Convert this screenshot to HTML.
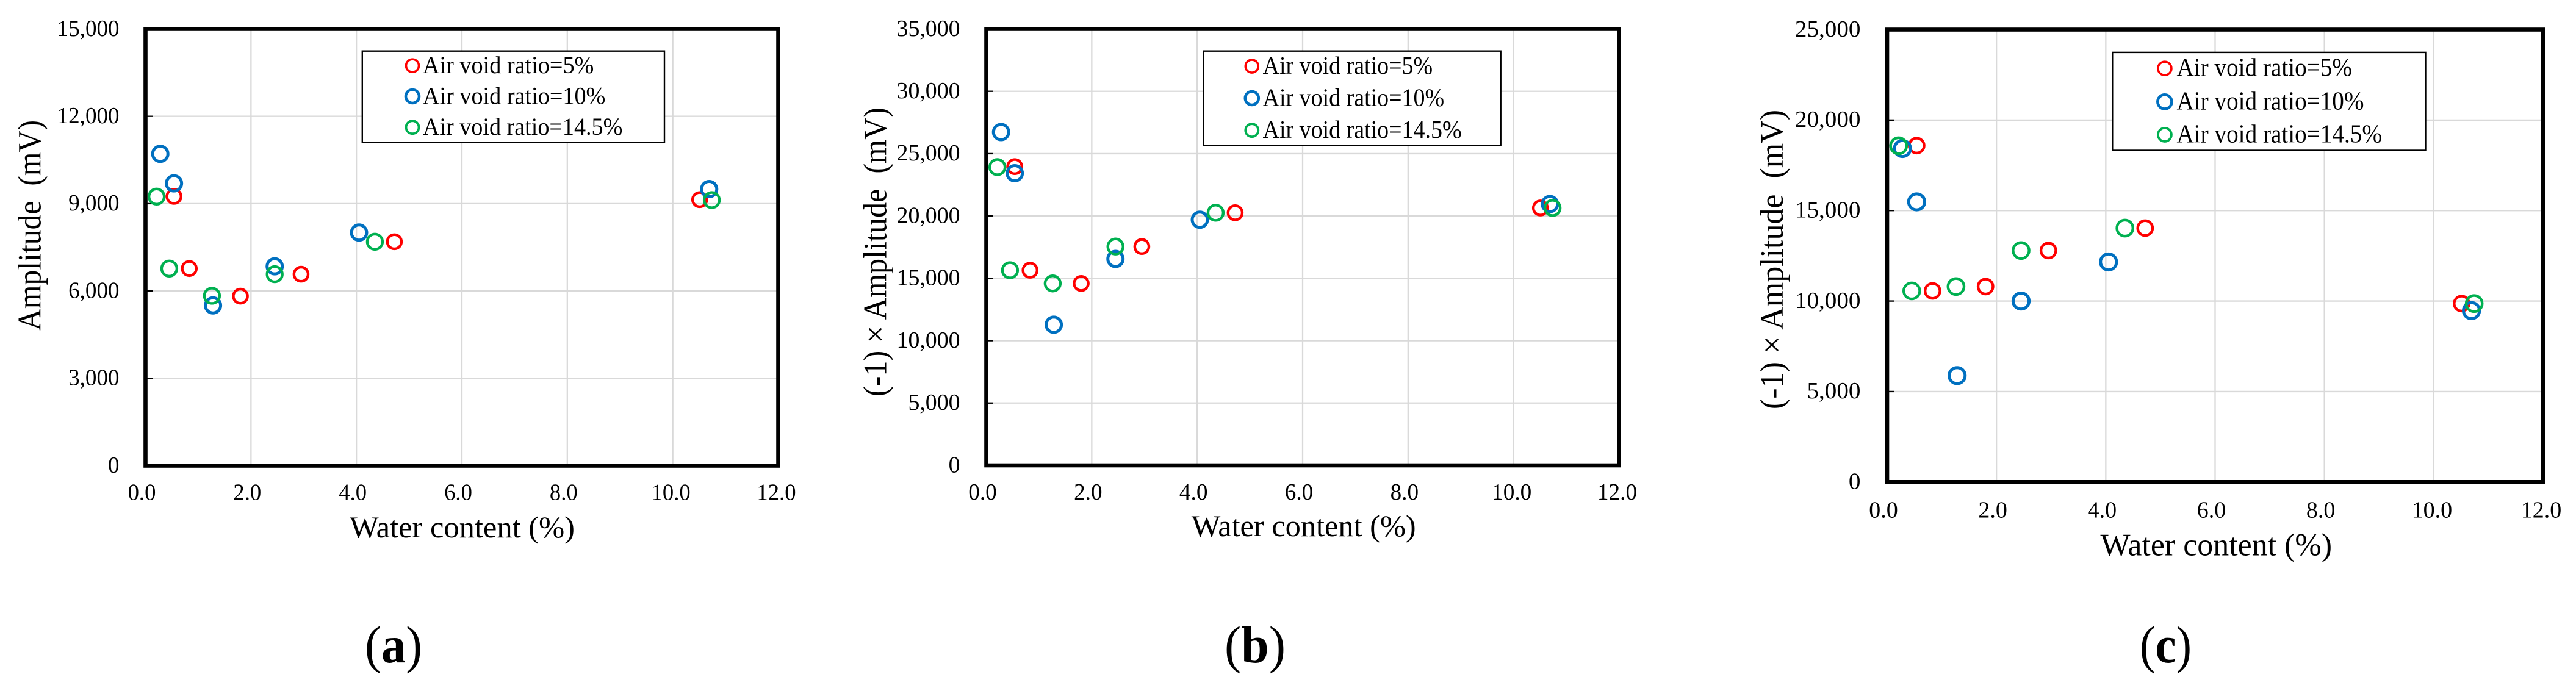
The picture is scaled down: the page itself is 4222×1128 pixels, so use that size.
<!DOCTYPE html>
<html lang="en">
<head>
<meta charset="utf-8">
<title>Amplitude versus water content</title>
<style>
html,body{margin:0;padding:0;background:#fff;width:4222px;height:1128px;overflow:hidden}
svg{display:block}
text{font-family:"Liberation Serif","Noto Serif CJK SC",serif;fill:#000;white-space:pre}
</style>
</head>
<body>
<svg id="figure" xmlns="http://www.w3.org/2000/svg" width="4222" height="1128" viewBox="0 0 4222 1128"></svg>
<script>
// Data
const xTickLabels = ['0.0', '2.0', '4.0', '6.0', '8.0', '10.0', '12.0'];
const yTickLabelsA = ['0', '3,000', '6,000', '9,000', '12,000', '15,000'];
const yTickLabelsB = ['0', '5,000', '10,000', '15,000', '20,000', '25,000', '30,000', '35,000'];
const yTickLabelsC = ['0', '5,000', '10,000', '15,000', '20,000', '25,000'];
const seriesNames = ['Air void ratio=5%', 'Air void ratio=10%', 'Air void ratio=14.5%'];
const seriesColors = ['#ff0000', '#0070c0', '#00b050'];

const waterContent5 = [0.54, 0.83, 1.80, 2.95, 4.72, 10.51];
const waterContent10 = [0.28, 0.54, 1.28, 2.45, 4.05, 10.69];
const waterContent145 = [0.21, 0.45, 1.26, 2.45, 4.35, 10.74];

const amplitudeA5 = [9250, 6771, 5822, 6576, 7691, 9138];
const amplitudeA10 = [10710, 9696, 5505, 6847, 8007, 9500];
const amplitudeA145 = [9243, 6771, 5836, 6576, 7691, 9123];

const amplitudeB5 = [23960, 15650, 14590, 17550, 20260, 20645];
const amplitudeB10 = [26730, 23430, 11280, 16560, 19700, 20960];
const amplitudeB145 = [23920, 15650, 14590, 17550, 20260, 20645];

const amplitudeC5 = [18590, 10560, 10800, 12790, 14030, 9860];
const amplitudeC10 = [18430, 15480, 5880, 10000, 12160, 9470];
const amplitudeC145 = [18580, 10560, 10800, 12790, 14030, 9860];

const svg = document.getElementById('figure');
const NS = 'http://www.w3.org/2000/svg';

function make(parent, tag, attrs, content) {
  const node = document.createElementNS(NS, tag);
  for (const key in attrs) node.setAttribute(key, attrs[key]);
  if (content !== undefined) node.textContent = content;
  parent.appendChild(node);
  return node;
}
function parseTick(label) {
  return parseFloat(label.replace(/,/g, ''));
}

function drawPanel(p) {
  const panel = make(svg, 'g', {});
  
  

  const xMax = parseTick(xTickLabels[xTickLabels.length - 1]);
  const yMax = parseTick(p.yLabels[p.yLabels.length - 1]);
  const xScale = function (v) { return p.left + v / xMax * (p.right - p.left); };
  const yScale = function (v) { return p.bottom - v / yMax * (p.bottom - p.top); };

  make(panel, 'rect', { x: p.left, y: p.top, width: p.right - p.left, height: p.bottom - p.top, fill: '#fff' });

  p.yLabels.forEach(function (label) {
    const v = parseTick(label);
    const y = yScale(v);
    if (v > 0 && v < yMax) {
      const grid = make(panel, 'line', { x1: p.left, x2: p.right, y1: y, y2: y, stroke: '#d9d9d9', 'stroke-width': 2.3 });
      
      
      const tick = make(panel, 'line', { x1: p.left, x2: p.left + 11.5, y1: y, y2: y, stroke: '#000', 'stroke-width': 2.3 });
      
      
    }
    const text = make(panel, 'text', {
      'text-anchor': 'end', 'font-size': 38,
      transform: 'translate(' + p.yLabelRight + ',' + (y + 11.3) + ') scale(' + p.yLabelScale + ',1)'
    }, label);
    
    
  });

  xTickLabels.forEach(function (label) {
    const v = parseTick(label);
    const x = xScale(v);
    if (v > 0 && v < xMax) {
      const grid = make(panel, 'line', { x1: x, x2: x, y1: p.top, y2: p.bottom, stroke: '#d9d9d9', 'stroke-width': 2.3 });
      
      
    }
    const offset = label.length > 3 ? -3 : -6;
    const text = make(panel, 'text', {
      'text-anchor': 'middle', 'font-size': 38,
      transform: 'translate(' + (x + offset) + ',' + p.xLabelBaseline + ') scale(' + p.xLabelScale + ',1)'
    }, label);
    
    
  });

  const frame = make(panel, 'rect', { x: p.left, y: p.top, width: p.right - p.left, height: p.bottom - p.top, fill: 'none', stroke: '#000', 'stroke-width': 6.6 });
  
  

  const radii = [11.6 * p.markerScale, 12.5 * p.markerScale, 12.5 * p.markerScale];
  const widths = [4.4, 5.0, 4.4];
  p.series.forEach(function (s, i) {
    const group = make(panel, 'g', {});
    
    
    s.x.forEach(function (xv, j) {
      const dot = make(group, 'circle', {
        cx: xScale(xv), cy: yScale(s.y[j]), r: radii[i],
        fill: 'none', stroke: seriesColors[i], 'stroke-width': widths[i]
      });
      
      
    });
  });

  const legend = make(panel, 'g', {});
  
  
  const box = make(legend, 'rect', {
    x: p.legend.x, y: p.legend.y, width: p.legend.w, height: p.legend.h,
    fill: '#fff', stroke: '#000', 'stroke-width': 2.4
  });
  
  
  const legendRadii = [10.5, 11.0, 10.5];
  const legendWidths = [3.6, 4.6, 3.8];
  seriesNames.forEach(function (name, i) {
    const entry = make(legend, 'g', {});
    
    
    const marker = make(entry, 'circle', {
      cx: p.legend.markerX, cy: p.legend.rowY[i], r: legendRadii[i] * p.markerScale,
      fill: 'none', stroke: seriesColors[i], 'stroke-width': legendWidths[i]
    });
    
    
    const label = make(entry, 'text', {
      x: p.legend.textX, y: p.legend.rowY[i] + 12.5, 'font-size': p.legend.font,
      textLength: p.legend.textW[i], lengthAdjust: 'spacingAndGlyphs'
    }, name);
    
    
  });

  const xTitle = make(panel, 'text', {
    x: p.xTitle.x, y: p.xTitle.y, 'font-size': p.xTitle.font,
    textLength: p.xTitle.w, lengthAdjust: 'spacingAndGlyphs'
  }, 'Water content (%)');
  
  

  const yTitle = make(panel, 'text', {
    x: 0, y: 0, 'font-size': p.yTitle.font,
    textLength: p.yTitle.w, lengthAdjust: 'spacingAndGlyphs',
    transform: 'translate(' + p.yTitle.x + ',' + p.yTitle.y + ') rotate(-90)'
  }, p.yTitle.text);
  
  

  const caption = make(panel, 'text', {
    x: p.caption.x, y: p.caption.y, 'font-size': p.caption.font,
    textLength: p.caption.w, lengthAdjust: 'spacingAndGlyphs'
  });
  
  
  make(caption, 'tspan', {}, '(');
  make(caption, 'tspan', { 'font-weight': 'bold' }, p.id);
  make(caption, 'tspan', {}, ')');
}

drawPanel({
  id: 'a', left: 238.5, right: 1275.5, top: 47.5, bottom: 763.5,
  yLabels: yTickLabelsA, yLabelRight: 195.5, yLabelScale: 0.975,
  xLabelBaseline: 819.5, xLabelScale: 0.965, markerScale: 1,
  series: [
    { x: waterContent5, y: amplitudeA5 },
    { x: waterContent10, y: amplitudeA10 },
    { x: waterContent145, y: amplitudeA145 }
  ],
  legend: { x: 593.8, y: 83.7, w: 495.2, h: 149.6, markerX: 676, rowY: [107.7, 158, 208.7], textX: 692.9, textW: [280.5, 299.5, 327.5], font: 40 },
  xTitle: { x: 573, y: 881, w: 369, font: 50 },
  yTitle: { x: 66.7, y: 542, w: 345, font: 54, text: 'Amplitude  (mV)' },
  caption: { x: 598, y: 1086, w: 94, font: 86 }
});

drawPanel({
  id: 'b', left: 1616.5, right: 2653.5, top: 47.5, bottom: 763,
  yLabels: yTickLabelsB, yLabelRight: 1573.5, yLabelScale: 0.995,
  xLabelBaseline: 819, xLabelScale: 0.98, markerScale: 1,
  series: [
    { x: waterContent5, y: amplitudeB5 },
    { x: waterContent10, y: amplitudeB10 },
    { x: waterContent145, y: amplitudeB145 }
  ],
  legend: { x: 1972.4, y: 83.7, w: 487.3, h: 155, markerX: 2051.8, rowY: [108.6, 161, 213.7], textX: 2069.6, textW: [278.5, 297.5, 326], font: 41 },
  xTitle: { x: 1952.7, y: 879, w: 368, font: 50 },
  yTitle: { x: 1452.3, y: 650, w: 474, font: 54, text: '(-1) × Amplitude  (mV)' },
  caption: { x: 2007, y: 1086, w: 100, font: 86 }
});

drawPanel({
  id: 'c', left: 3093, right: 4168, top: 48.5, bottom: 790.3,
  yLabels: yTickLabelsC, yLabelRight: 3049.5, yLabelScale: 1.03,
  xLabelBaseline: 848.5, xLabelScale: 1.0, markerScale: 1.05,
  series: [
    { x: waterContent5, y: amplitudeC5 },
    { x: waterContent10, y: amplitudeC10 },
    { x: waterContent145, y: amplitudeC145 }
  ],
  legend: { x: 3462.3, y: 85.9, w: 513.2, h: 160.6, markerX: 3547.9, rowY: [112.2, 166.9, 220.9], textX: 3567.5, textW: [287.5, 307, 336.5], font: 42 },
  xTitle: { x: 3442.5, y: 910.5, w: 379.5, font: 52 },
  yTitle: { x: 2922, y: 671, w: 491, font: 54, text: '(-1) × Amplitude  (mV)' },
  caption: { x: 3507, y: 1086, w: 85, font: 86 }
});
</script>
</body>
</html>
